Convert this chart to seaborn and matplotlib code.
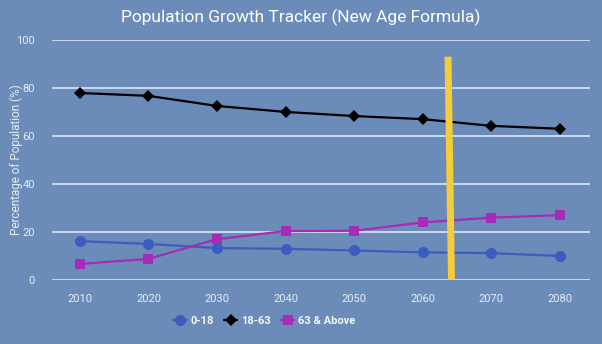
import matplotlib
matplotlib.use("Agg")
import matplotlib.pyplot as plt
import seaborn as sns
import pandas as pd

years = [2010, 2020, 2030, 2040, 2050, 2060, 2070, 2080]
age_0_18 = [16.2, 15.0, 13.3, 13.0, 12.3, 11.5, 11.2, 10.0]
age_18_63 = [77.9, 76.7, 72.5, 70.0, 68.3, 67.0, 64.2, 63.0]
age_63_up = [6.7, 8.8, 17.0, 20.4, 20.5, 24.0, 26.0, 27.0]
series_names = ["0-18", "18-63", "63 & Above"]
marker_line_x = [2063.7, 2064.2]
marker_line_y = [93, 0]

bg = "#6b8cb8"
colors = {"0-18": "#3d5cbf", "18-63": "#000000", "63 & Above": "#a62cb8"}
markers = {"0-18": "o", "18-63": "D", "63 & Above": "s"}
msizes = {"0-18": 8, "18-63": 5.8, "63 & Above": 7.5}

df = pd.DataFrame({
    "Year": years * 3,
    "Value": age_0_18 + age_18_63 + age_63_up,
    "Group": [series_names[0]] * 8 + [series_names[1]] * 8 + [series_names[2]] * 8,
})

sns.set_theme(style="white")
plt.rcParams["font.family"] = ["Roboto", "DejaVu Sans"]

fig = plt.figure(figsize=(6.02, 3.44), dpi=100)
fig.patch.set_facecolor(bg)
ax = fig.add_axes([0.086, 0.186, 0.894, 0.698])
ax.set_facecolor(bg)

sns.lineplot(data=df, x="Year", y="Value", hue="Group", style="Group",
             palette=colors, markers=markers, dashes=False, markersize=7,
             linewidth=1.6, markeredgewidth=0, ax=ax, zorder=3)

for line, name in zip(ax.lines[:3], series_names):
    line.set_markersize(msizes[name])

ax.plot(marker_line_x, marker_line_y, color="#f5cc3a", linewidth=5, zorder=4,
        solid_capstyle="butt")

ax.set_xlim(2005.9, 2084.4)
ax.set_ylim(0, 100)
ax.set_xticks(years)
ax.set_yticks([0, 20, 40, 60, 80, 100])
ax.yaxis.grid(True, color="#d3e1f5", linewidth=1.3)
ax.set_axisbelow(True)
for s in ax.spines.values():
    s.set_visible(False)
ax.tick_params(axis="both", length=0, labelsize=8, colors="#e6edf7", pad=10)
ax.tick_params(axis="y", pad=12)
ax.set_xlabel("")
ax.set_ylabel("Percentage of Population (%)", color="#e6edf7", fontsize=8.5)
ax.yaxis.set_label_coords(-0.054, 0.5)

fig.suptitle("Population Growth Tracker (New Age Formula)", color="white",
             fontsize=12.5, y=0.975)

handles, labels = ax.get_legend_handles_labels()
for h, name in zip(handles, labels):
    h.set_markersize(msizes[name])
leg = ax.legend(handles, labels, loc="center", bbox_to_anchor=(0.395, -0.17),
                ncol=3, frameon=False, fontsize=8, handlelength=1.2,
                columnspacing=0.9, handletextpad=0.35)
for t in leg.get_texts():
    t.set_color("#f3f6fb")
    t.set_fontweight("bold")

fig.savefig("out.png", dpi=100, facecolor=bg)
